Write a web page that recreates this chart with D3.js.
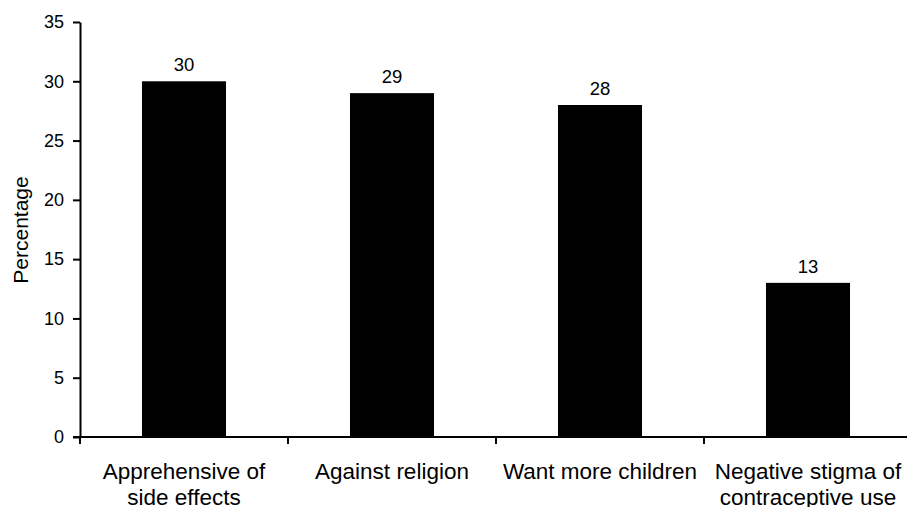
<!DOCTYPE html>
<html>
<head>
<meta charset="utf-8">
<script src="https://cdn.jsdelivr.net/npm/d3@7/dist/d3.min.js"></script>
<style>
  html, body { margin: 0; padding: 0; background: #fff; }
  svg { display: block; font-family: "Liberation Sans", Arial, sans-serif; }
</style>
</head>
<body>
<svg id="chart" width="907" height="507"></svg>
<script>
// Reasons for not using contraception (percentage of respondents)
const categories = [
  ["Apprehensive of", "side effects"],
  ["Against religion"],
  ["Want more children"],
  ["Negative stigma of", "contraceptive use"]
];
const values = [30, 29, 28, 13];
const yTicks = [0, 5, 10, 15, 20, 25, 30, 35];
const yTitle = "Percentage";

const svg = d3.select("#chart");
const plotLeft = 80, plotRight = 912, plotTop = 22, plotBottom = 437;

const x = d3.scaleBand()
  .domain(d3.range(categories.length))
  .range([plotLeft, plotRight])
  .paddingInner(0)
  .paddingOuter(0);

const y = d3.scaleLinear().domain([0, 35]).range([plotBottom, plotTop]);

const barW = x.bandwidth() * 0.404;

// Bars
svg.append("g").selectAll("rect")
  .data(values)
  .join("rect")
  .attr("x", (d, i) => x(i) + x.bandwidth() / 2 - barW / 2)
  .attr("y", d => y(d))
  .attr("width", barW)
  .attr("height", d => y(0) - y(d))
  .attr("fill", "#000");

// Value labels
svg.append("g").selectAll("text")
  .data(values)
  .join("text")
  .attr("x", (d, i) => x(i) + x.bandwidth() / 2)
  .attr("y", d => y(d) - 10)
  .attr("text-anchor", "middle")
  .attr("font-size", 18.5)
  .attr("fill", "#000")
  .text(d => d);

// Y axis
const yAxis = svg.append("g")
  .attr("transform", `translate(${plotLeft},0)`)
  .call(d3.axisLeft(y).tickValues(yTicks).tickSize(7).tickPadding(9).tickSizeOuter(0));
yAxis.select(".domain").attr("stroke", "#000").attr("stroke-width", 2);
yAxis.selectAll(".tick line").attr("stroke", "#000").attr("stroke-width", 2);
yAxis.selectAll(".tick text")
  .attr("font-size", 18)
  .attr("font-family", "Liberation Sans, Arial, sans-serif")
  .attr("fill", "#000");

// X axis: ticks at band boundaries
const xAxisG = svg.append("g").attr("transform", `translate(0,${plotBottom})`);
xAxisG.append("line")
  .attr("x1", plotLeft - 7).attr("x2", plotRight)
  .attr("stroke", "#000").attr("stroke-width", 2);
xAxisG.selectAll("line.tick")
  .data(d3.range(categories.length + 1))
  .join("line")
  .attr("class", "tick")
  .attr("x1", i => i < categories.length ? x(i) : plotRight)
  .attr("x2", i => i < categories.length ? x(i) : plotRight)
  .attr("y1", 0).attr("y2", 7)
  .attr("stroke", "#000").attr("stroke-width", 2);

// Category labels
const catG = svg.append("g");
categories.forEach((lines, i) => {
  const t = catG.append("text")
    .attr("x", x(i) + x.bandwidth() / 2)
    .attr("y", 479)
    .attr("text-anchor", "middle")
    .attr("font-size", 22.5)
    .attr("fill", "#000");
  lines.forEach((ln, j) => {
    t.append("tspan")
      .attr("x", x(i) + x.bandwidth() / 2)
      .attr("dy", j === 0 ? 0 : 25.5)
      .text(ln);
  });
});

// Y axis title
svg.append("text")
  .attr("transform", `translate(28,230) rotate(-90)`)
  .attr("text-anchor", "middle")
  .attr("font-size", 21)
  .attr("fill", "#000")
  .text(yTitle);
</script>
</body>
</html>
